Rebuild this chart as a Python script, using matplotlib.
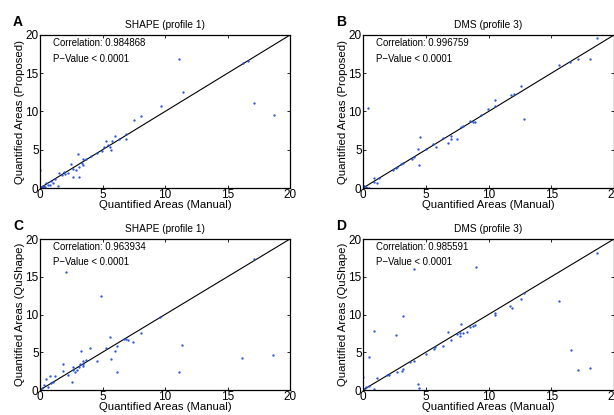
import matplotlib.pyplot as plt

plt.rcParams['font.family'] = ['Liberation Sans', 'DejaVu Sans']

# Panel A: SHAPE (profile 1), manual vs proposed
a_manual = [11.15, 16.2, 16.6, 11.4, 17.1, 18.7, 9.65, 7.5, 8.05, 6.85, 6.9, 6.0, 6.3,
            5.75, 5.65, 5.3, 5.6, 5.1, 4.95, 5.45, 4.55, 3.0, 3.45, 3.35, 3.4, 3.15, 2.5,
            2.6, 2.9, 3.15, 2.6, 2.2, 1.75, 1.55, 1.2, 1.05, 1.4, 0.0, 0.65, 0.3, 0.5,
            0.8, 0.15, 0.4, 3.7, 4.1, 2.0, 1.9, 0.9, 0.2]
a_proposed = [16.9, 16.3, 16.6, 12.55, 11.1, 9.6, 10.7, 8.9, 9.4, 7.1, 6.4, 6.85, 6.45,
              6.2, 5.0, 6.1, 5.35, 5.35, 4.9, 5.6, 4.6, 4.5, 3.75, 3.3, 3.05, 2.75, 3.2,
              2.5, 2.3, 1.5, 1.45, 1.95, 1.65, 1.9, 1.2, 0.65, 0.3, 2.3, 0.4, 0.2, 0.6,
              0.45, 0.1, 0.1, 3.8, 4.2, 1.8, 2.1, 0.9, 0.3]

# Panel B: DMS (profile 3), manual vs proposed
b_manual = [18.65, 15.6, 16.5, 17.1, 18.05, 12.55, 11.8, 12.0, 12.85, 10.55, 10.5, 9.95,
            9.4, 8.8, 8.95, 8.55, 8.0, 7.8, 7.0, 7.0, 6.8, 7.5, 6.4, 5.85, 5.6, 5.05,
            4.55, 4.4, 4.45, 4.1, 3.9, 3.2, 3.05, 2.7, 2.6, 2.4, 0.4, 0.85, 1.3, 0.85,
            1.1, 0.1, 0.3, 0.5, 0.0, 0.2]
b_proposed = [19.6, 16.1, 16.5, 16.8, 16.8, 13.3, 12.1, 12.3, 9.0, 11.45, 10.75, 10.3,
              9.6, 8.6, 8.65, 8.7, 8.1, 8.0, 6.8, 6.4, 5.9, 6.45, 6.55, 5.4, 5.75, 5.1,
              6.65, 5.05, 2.95, 4.0, 3.8, 3.25, 3.1, 2.75, 2.55, 2.4, 10.4, 1.35, 1.35,
              0.75, 0.65, 0.2, 0.05, 0.05, 0.3, 0.15]

# Panel C: SHAPE (profile 1), manual vs QuShape
c_manual = [2.05, 4.9, 18.65, 16.15, 11.35, 11.1, 17.1, 8.1, 7.45, 7.05, 6.9, 5.6, 6.15,
            6.0, 5.7, 6.15, 5.3, 4.55, 4.0, 3.25, 3.7, 3.45, 3.4, 3.2, 3.45, 3.1, 2.95,
            2.8, 2.65, 1.8, 1.85, 2.25, 2.55, 0.8, 1.2, 0.5, 0.3, 0.15, 0.9, 1.0, 0.6,
            2.6, 9.6, 6.7]
c_qushape = [15.6, 12.45, 4.6, 4.3, 6.0, 2.35, 17.3, 7.5, 6.3, 6.6, 6.75, 7.0, 5.85,
             5.2, 4.15, 2.45, 5.5, 3.9, 5.5, 5.15, 3.95, 3.9, 3.5, 3.5, 3.2, 3.1, 2.65,
             2.45, 2.65, 3.5, 2.5, 2.0, 1.0, 1.9, 1.9, 1.5, 0.7, 0.3, 0.9, 1.1, 0.4,
             3.1, 9.7, 6.8]

# Panel D: DMS (profile 3), manual vs QuShape
d_manual = [4.1, 9.0, 18.65, 15.6, 16.55, 17.1, 18.05, 12.85, 12.55, 11.75, 11.9, 10.5,
            10.55, 8.95, 8.75, 8.55, 7.8, 8.3, 8.0, 7.7, 7.75, 7.5, 6.75, 7.0, 6.4, 5.7,
            5.65, 5.0, 4.1, 3.75, 3.2, 3.1, 2.7, 2.1, 1.9, 3.2, 2.65, 0.85, 0.45, 4.4,
            4.5, 1.1, 0.45, 0.2, 0.0, 0.85, 0.1]
d_qushape = [16.0, 16.35, 18.1, 11.8, 5.3, 2.65, 2.95, 12.9, 12.05, 11.15, 10.9, 10.15,
             9.95, 8.6, 8.5, 8.3, 8.75, 7.7, 7.6, 7.6, 7.15, 7.4, 7.65, 6.6, 5.8, 5.75,
             5.4, 4.75, 3.9, 3.75, 2.75, 2.55, 2.45, 2.0, 1.95, 9.8, 7.3, 7.8, 4.35, 0.8,
             0.3, 1.55, 0.55, 0.45, 1.75, 0.1, 0.1]

panels = [
    ('A', 'SHAPE (profile 1)', a_manual, a_proposed, 'Quantified Areas (Proposed)', '0.984868',
     [40, 35, 250, 153]),
    ('B', 'DMS (profile 3)', b_manual, b_proposed, 'Quantified Areas (Proposed)', '0.996759',
     [363, 35, 251, 153]),
    ('C', 'SHAPE (profile 1)', c_manual, c_qushape, 'Quantified Areas (QuShape)', '0.963934',
     [40, 239, 250, 151]),
    ('D', 'DMS (profile 3)', d_manual, d_qushape, 'Quantified Areas (QuShape)', '0.985591',
     [363, 239, 251, 151]),
]

W, H = 614, 415
fig = plt.figure(figsize=(W / 100, H / 100), dpi=100)

for letter, title, xs, ys, ylabel, corr, (l, t, w, h) in panels:
    ax = fig.add_axes([l / W, 1 - (t + h) / H, w / W, h / H])
    ax.plot([0, 20], [0, 20], color='black', linewidth=0.8)
    ax.plot(xs, ys, '.', color='#1f4fd6', markersize=1.3)
    ax.set_xlim(0, 20)
    ax.set_ylim(0, 20)
    ax.set_xticks([0, 5, 10, 15, 20])
    ax.set_yticks([0, 5, 10, 15, 20])
    ax.tick_params(direction='in', length=2.5, width=0.6, labelsize=8.5, pad=1,
                   top=True, right=True)
    for s in ax.spines.values():
        s.set_linewidth(0.9)
    ax.set_title(title, fontsize=7.3, pad=5)
    ax.set_xlabel('Quantified Areas (Manual)', fontsize=8.2, labelpad=-1)
    ax.set_ylabel(ylabel, fontsize=8.2, labelpad=0)
    ax.text(1.05, 18.9, 'Correlation: ' + corr, fontsize=6.9, va='center')
    ax.text(1.05, 16.9, 'P\u2212Value < 0.0001', fontsize=6.9, va='center')
    fig.text((l - 27) / W, 1 - (t - 13) / H, letter, fontsize=10, fontweight='bold',
             va='center', ha='left')

fig.savefig('out.png', dpi=100)
